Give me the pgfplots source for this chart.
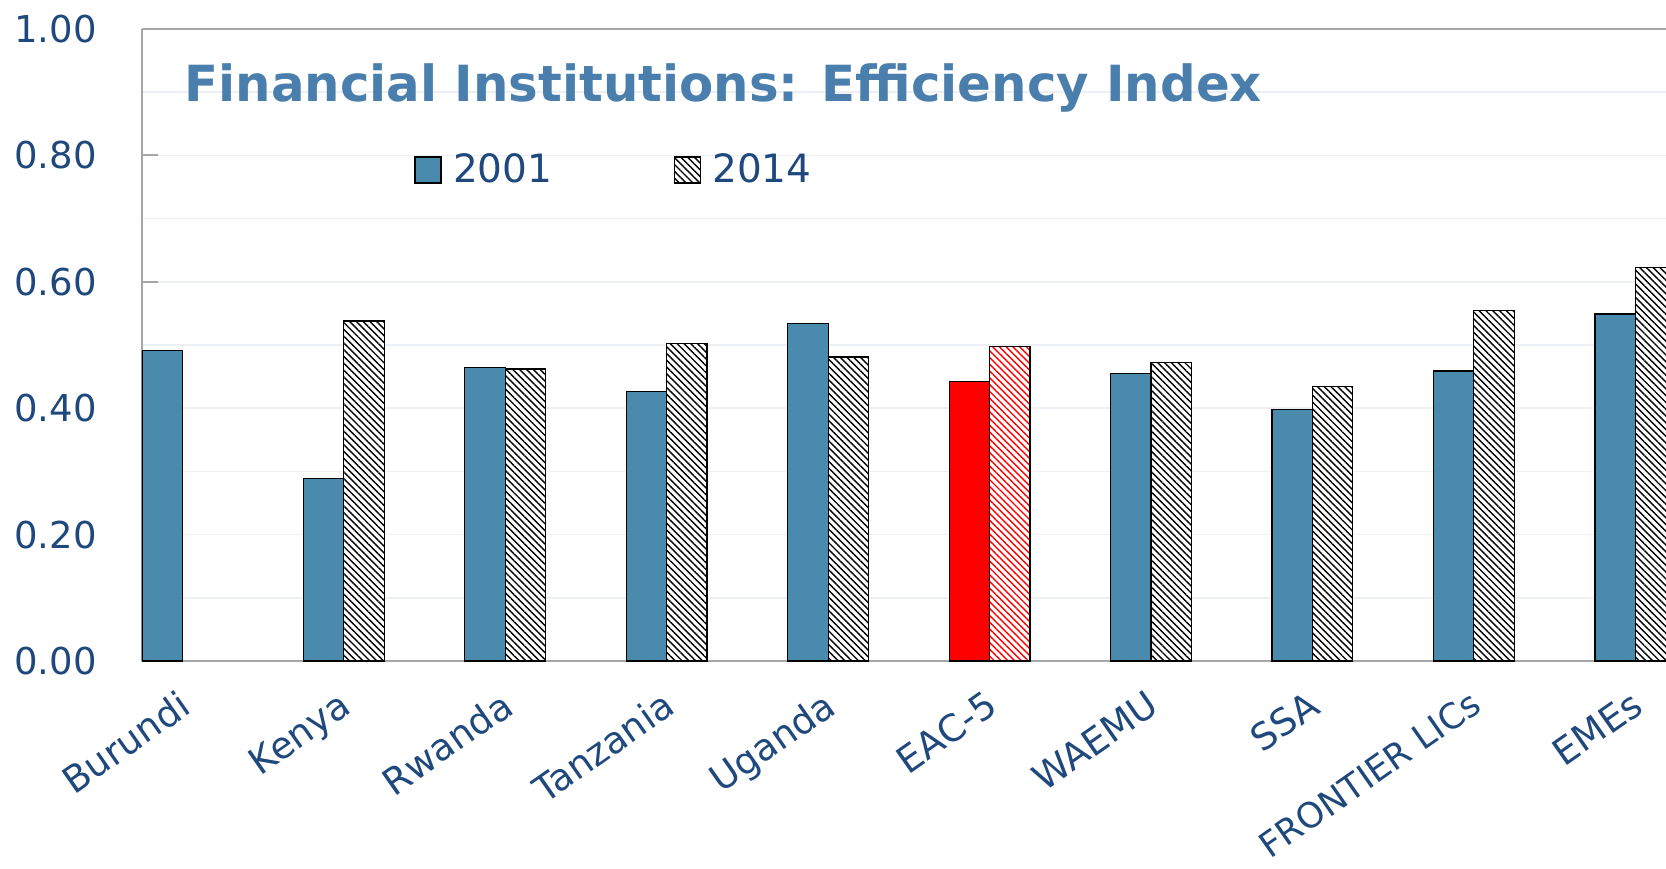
\documentclass[border=0pt]{standalone}
\usepackage{pgfplots}
\pgfplotsset{compat=1.18}
\usepackage{fontspec}
\setmainfont{DejaVu Sans}
\usetikzlibrary{patterns.meta}
\definecolor{barblue}{RGB}{74,139,173}
\definecolor{titleblue}{RGB}{74,127,173}
\definecolor{labelblue}{RGB}{31,73,125}
\definecolor{axisgray}{RGB}{166,166,166}
\definecolor{gridgray}{RGB}{236,240,245}

\begin{document}
\begin{tikzpicture}
\path[use as bounding box] (-71pt,-103.5pt) rectangle (762pt,330.5pt);
\begin{axis}[
  at={(0,0)}, anchor=south west,
  scale only axis, width=762pt, height=316pt,
  xmin=-0.25, xmax=9.19, ymin=0, ymax=1,
  axis x line*=bottom, axis y line*=left,
  axis line style={draw=axisgray, line width=1.1pt, -},
  xtick={0,...,9},
  xticklabels={Burundi,Kenya,Rwanda,Tanzania,Uganda,EAC-5,WAEMU,SSA,{\fontsize{17.5}{20}\selectfont FRONTIER LICs},EMEs},
  x tick style={draw=none},
  xticklabel style={rotate=35, anchor=north east, inner sep=0pt, xshift=-10.2pt, yshift=-9.6pt,
    font=\fontsize{18.5}{22}\selectfont, text=labelblue},
  ytick={0,0.2,0.4,0.6,0.8,1},
  minor ytick={0.1,0.3,0.5,0.7,0.9},
  ymajorgrids, yminorgrids,
  major grid style={draw=gridgray, line width=0.8pt},
  minor grid style={draw=gridgray, line width=0.8pt},
  y tick style={draw=axisgray, line width=1.1pt},
  tick align=inside, major tick length=8pt, minor tick length=0pt,
  yticklabel style={/pgf/number format/fixed, /pgf/number format/fixed zerofill,
    /pgf/number format/precision=2, /pgf/number format/assume math mode=true,
    font=\fontsize{18.5}{22}\selectfont, text=labelblue, inner sep=0pt, xshift=-22.5pt},
  bar width=0.25,
  legend style={draw=none, fill=none, at={(rel axis cs:0.1785,0.777)}, anchor=west,
    legend columns=2, inner sep=0pt, font=\fontsize{19.5}{22}\selectfont, text=labelblue,
    /tikz/every even column/.append style={column sep=55pt},
    nodes={inner xsep=5.7pt}},
  legend image code/.code={\draw[#1,/tikz/.cd] (0pt,-6.5pt) rectangle (13pt,6.5pt);},
]
\addplot[ybar, bar shift=-0.125, fill=barblue, draw=black, line width=0.6pt]
  coordinates {(0,0.491) (1,0.289) (2,0.464) (3,0.427) (4,0.534) (6,0.455) (7,0.398) (8,0.459) (9,0.549)};
\addlegendentry{2001}
\addplot[ybar, bar shift=0.125, preaction={fill=white},
  pattern={Lines[angle=-45,distance=2.4pt,line width=0.7pt]}, pattern color=black,
  draw=black, line width=0.6pt]
  coordinates {(1,0.538) (2,0.462) (3,0.503) (4,0.481) (6,0.472) (7,0.434) (8,0.555) (9,0.623)};
\addlegendentry{2014}
% EAC-5 in red
\addplot[ybar, bar shift=-0.125, fill=red, draw=black, line width=0.6pt, forget plot]
  coordinates {(5,0.442)};
\addplot[ybar, bar shift=0.125, preaction={fill=white},
  pattern={Lines[angle=-45,distance=2.4pt,line width=0.7pt]}, pattern color=red,
  draw=black, line width=0.6pt, forget plot]
  coordinates {(5,0.497)};
\draw[axisgray, line width=1.1pt] (rel axis cs:0,1) -- (rel axis cs:1,1);
\node[anchor=west, inner sep=0pt, text=titleblue, font=\fontsize{24.9}{30}\selectfont\bfseries]
  at (rel axis cs:0.0276,0.906) {Financial Institutions: Efficiency Index};
\end{axis}
\end{tikzpicture}
\end{document}
